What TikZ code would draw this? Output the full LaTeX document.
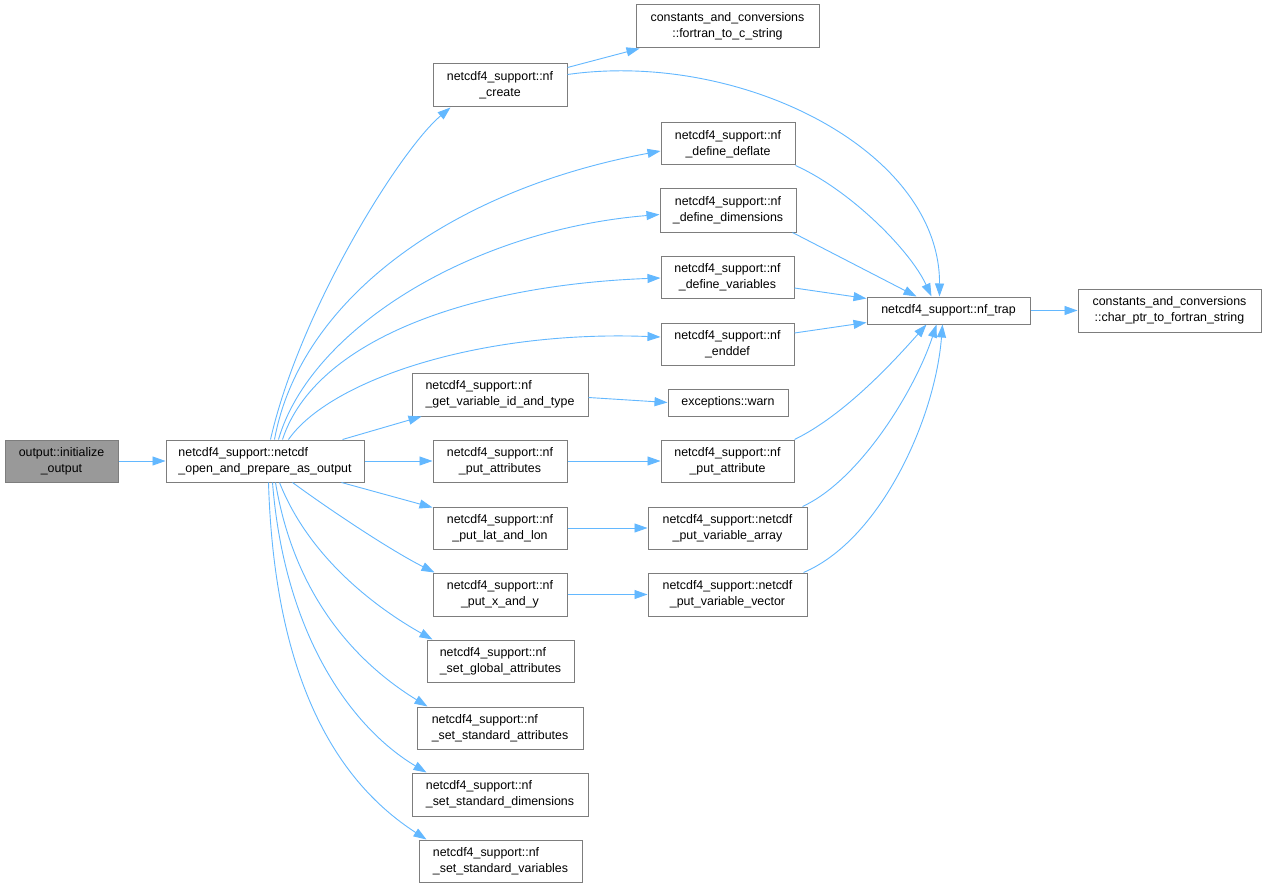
\documentclass[tikz,border=0pt]{standalone}
\usepackage{fontspec}
\setmainfont{Liberation Sans}
\usetikzlibrary{arrows.meta,calc}
\definecolor{edgeblue}{RGB}{99,184,255}
\definecolor{boxline}{RGB}{125,125,125}
\definecolor{rootfill}{RGB}{153,153,153}
\begin{document}
\begin{tikzpicture}[x=1pt,y=-1pt,
  box/.style={draw=boxline, line width=1pt, fill=white, inner sep=0pt,
    font=\fontsize{12.4}{16}\selectfont, align=center, minimum height=42pt},
  lbox/.style={box, align=left},
  onebox/.style={box, minimum height=27pt},
  rootbox/.style={box, fill=rootfill},
  conn/.style={draw=edgeblue, line width=0.9pt, -{Triangle[length=13pt,width=9pt]}}]
\useasboundingbox[fill=white] (0,0) rectangle (1267,888);

% nodes
\node[rootbox, minimum width=113pt] (init) at (61.5,461) {output::initialize\\\_output};
\node[lbox, minimum width=198pt] (open) at (265,461) {netcdf4\_support::netcdf\\\_open\_and\_prepare\_as\_output};
\node[box, minimum width=134pt, minimum height=43pt] (create) at (500,85.5) {netcdf4\_support::nf\\\_create};
\node[box, minimum width=183pt, minimum height=43pt] (f2c) at (727.5,26.5) {constants\_and\_conversions\\::fortran\_to\_c\_string};
\node[box, minimum width=134pt] (deflate) at (728,144) {netcdf4\_support::nf\\\_define\_deflate};
\node[box, minimum width=136pt, minimum height=43pt] (dims) at (728,210.5) {netcdf4\_support::nf\\\_define\_dimensions};
\node[box, minimum width=133pt] (vars) at (727.5,277) {netcdf4\_support::nf\\\_define\_variables};
\node[box, minimum width=133pt] (enddef) at (727.5,344) {netcdf4\_support::nf\\\_enddef};
\node[lbox, minimum width=176pt, minimum height=43pt] (getvar) at (500,394.5) {netcdf4\_support::nf\\\_get\_variable\_id\_and\_type};
\node[onebox, minimum width=120pt] (warn) at (728,402.5) {exceptions::warn};
\node[box, minimum width=134pt] (putattrs) at (500,461) {netcdf4\_support::nf\\\_put\_attributes};
\node[box, minimum width=133pt] (putattr) at (727.5,461) {netcdf4\_support::nf\\\_put\_attribute};
\node[box, minimum width=134pt] (latlon) at (500,528) {netcdf4\_support::nf\\\_put\_lat\_and\_lon};
\node[box, minimum width=159pt] (vararray) at (727.5,528) {netcdf4\_support::netcdf\\\_put\_variable\_array};
\node[box, minimum width=134pt, minimum height=43pt] (xy) at (500,594.5) {netcdf4\_support::nf\\\_put\_x\_and\_y};
\node[box, minimum width=159pt, minimum height=43pt] (varvec) at (727.5,594.5) {netcdf4\_support::netcdf\\\_put\_variable\_vector};
\node[lbox, minimum width=147pt] (setglobal) at (500.5,661) {netcdf4\_support::nf\\\_set\_global\_attributes};
\node[lbox, minimum width=166pt] (setstdattr) at (500,728) {netcdf4\_support::nf\\\_set\_standard\_attributes};
\node[lbox, minimum width=176pt, minimum height=43pt] (setstddims) at (500,794.5) {netcdf4\_support::nf\\\_set\_standard\_dimensions};
\node[lbox, minimum width=163pt] (setstdvars) at (500.5,861) {netcdf4\_support::nf\\\_set\_standard\_variables};
\node[onebox, minimum width=163pt] (trap) at (948.5,310.5) {netcdf4\_support::nf\_trap};
\node[box, minimum width=183pt, minimum height=43pt] (charptr) at (1169.5,310.5) {constants\_and\_conversions\\::char\_ptr\_to\_fortran\_string};

% edges
\draw[conn] (init) -- (open);
\draw[conn] ($(open.north west)+(105,0)$) .. controls (300,310) and (400,150) .. ($(create.south west)+(18,0)$);
\draw[conn] ($(open.north west)+(109,0)$) .. controls (300,300) and (450,190) .. ($(deflate.west)+(0,7)$);
\draw[conn] ($(open.north west)+(113,0)$) .. controls (310,330) and (470,230) .. ($(dims.west)+(0,4)$);
\draw[conn] ($(open.north west)+(117,0)$) .. controls (315,340) and (470,285) .. ($(vars.west)+(0,1)$);
\draw[conn] ($(open.north west)+(123,0)$) .. controls (330,380) and (480,330) .. ($(enddef.west)+(0,-7)$);
\draw[conn] ($(open.north west)+(177,0)$) -- ($(getvar.south west)+(10,0)$);
\draw[conn] (open) -- (putattrs);
\draw[conn] ($(open.south west)+(176,0)$) -- ($(latlon.north west)+(0,1)$);
\draw[conn] ($(open.south west)+(127,0)$) .. controls (330,510) and (390,550) .. ($(xy.north west)+(2,0)$);
\draw[conn] ($(open.south west)+(114,0)$) .. controls (310,560) and (380,610) .. ($(setglobal.north west)+(6,0)$);
\draw[conn] ($(open.south west)+(110,0)$) .. controls (295,600) and (360,665) .. ($(setstdattr.north west)+(11,0)$);
\draw[conn] ($(open.south west)+(107,0)$) .. controls (285,640) and (355,730) .. ($(setstddims.north west)+(15,0)$);
\draw[conn] ($(open.south west)+(103,0)$) .. controls (275,700) and (350,790) .. ($(setstdvars.north west)+(8,0)$);

\draw[conn] ($(create.north east)+(0,4)$) -- ($(f2c.south west)+(4,0)$);
\draw[conn] ($(create.east)+(0,-11)$) .. controls (740,50) and (940,150) .. ($(trap.north west)+(73,0)$);
\draw[conn] (deflate.south east) .. controls (850,190) and (910,250) .. ($(trap.north west)+(65,0)$);
\draw[conn] ($(dims.south east)+(-4,0)$) -- ($(trap.north west)+(50,0)$);
\draw[conn] ($(vars.east)+(0,11)$) -- ($(trap.west)+(0,-12)$);
\draw[conn] ($(enddef.east)+(0,-11)$) -- ($(trap.west)+(0,12)$);
\draw[conn] ($(getvar.east)+(0,3)$) -- (warn.west);
\draw[conn] (putattrs) -- (putattr);
\draw[conn] (latlon) -- (vararray);
\draw[conn] (xy) -- (varvec);
\draw[conn] (putattr.north east) .. controls (845,415) and (895,360) .. ($(trap.south west)+(60,0)$);
\draw[conn] ($(vararray.north east)+(-5,0)$) .. controls (860,480) and (915,390) .. ($(trap.south west)+(70,0)$);
\draw[conn] ($(varvec.north east)+(-4,0)$) .. controls (880,540) and (935,420) .. ($(trap.south west)+(76,0)$);
\draw[conn] (trap) -- (charptr);
\end{tikzpicture}
\end{document}
